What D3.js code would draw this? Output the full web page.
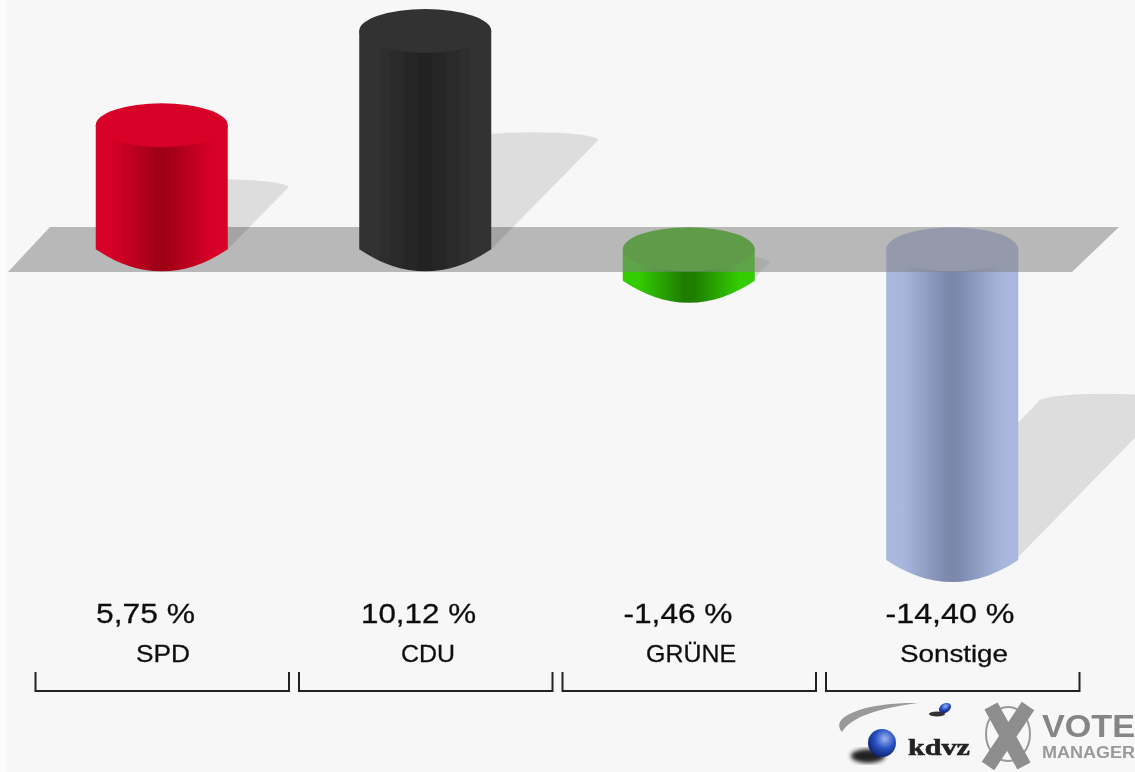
<!DOCTYPE html>
<html><head><meta charset="utf-8">
<script src="https://cdn.jsdelivr.net/npm/d3@7"></script>
<style>html,body{margin:0;padding:0;background:#fff;overflow:hidden}svg{display:block}</style>
</head><body><svg id="c" width="1135" height="772"></svg>
<script>
const parties = ["SPD","CDU","GRÜNE","Sonstige"];
const values = [5.75,10.12,-1.46,-14.40];
const valueLabels = ["5,75 %","10,12 %","-1,46 %","-14,40 %"];
const edgeColors = ["#d70026","#313131","#33cc00","#a9b7de"];
const darkColors = ["#a00016","#242424","#1f7d00","#7c89ad"];
const capColors = ["#d70026","#303030","#33b800","#a9b6dc"];
const valueX = [145.5,418.5,678,950];
const valueW = [99,115,109,129];
const nameX = [163,428,691,954];
const nameW = [54,54,90,108];

const W=1135,H=772;
const svg=d3.select("#c");
const defs=svg.append("defs");
const x=d3.scaleBand().domain(parties).range([30,1084]).paddingInner(0).paddingOuter(0);
const y=d3.scaleLinear().domain([-14.4,10.12]).range([560,31]);
const rx=66, ry=22, y0=y(0);
const cx=p=>x(p)+x.bandwidth()/2;

svg.append("rect").attr("width",W).attr("height",H).attr("fill","#f7f7f7");
svg.append("rect").attr("width",7).attr("height",H).attr("fill","#fbfbfb");

parties.forEach((p,i)=>{
  const g=defs.append("linearGradient").attr("id","g"+i);
  [[0,edgeColors[i]],[.12,edgeColors[i]],[.46,darkColors[i]],[.54,darkColors[i]],[.88,edgeColors[i]],[1,edgeColors[i]]]
    .forEach(([o,c])=>g.append("stop").attr("offset",o).attr("stop-color",c));
});
const soft=defs.append("filter").attr("id","soft").attr("x","-5%").attr("y","-5%").attr("width","110%").attr("height","110%");
soft.append("feGaussianBlur").attr("stdDeviation",.6);
const blur=defs.append("filter").attr("id","b");blur.append("feGaussianBlur").attr("stdDeviation",2);
const blur2=defs.append("filter").attr("id","b2");blur2.append("feGaussianBlur").attr("stdDeviation",.7);
const b3=defs.append("filter").attr("id","b3").attr("x","-5%").attr("y","-5%").attr("width","110%").attr("height","110%");
b3.append("feGaussianBlur").attr("stdDeviation",.5);

function bodyPath(c,top,bot){
  return `M${c-rx},${top}L${c-rx},${bot}C${c-45},${bot+14} ${c-24},${bot+22} ${c},${bot+22}`+
         `C${c+24},${bot+22} ${c+45},${bot+14} ${c+rx},${bot}L${c+rx},${top}Z`;
}
function shadowPath(c,base,h){
  const sx=c+.49*h, sy=base-.5*h, sr=8;
  return `M${c-rx},${base}L${sx-rx},${sy}A${rx},${sr} 0 0 1 ${sx+rx},${sy}L${c+rx},${base}Z`;
}
function drawBar(p,i,layer){
  const v=values[i], c=cx(p), t=Math.min(y(v),y0), b=Math.max(y(v),y0), h=b-t;
  const base = v>=0 ? y0 : b-3;
  layer.append("path").attr("d",shadowPath(c,base,h)).attr("fill","#000").attr("fill-opacity",.105);
  layer.append("path").attr("d",bodyPath(c,t,b)).attr("fill",`url(#g${i})`);
  layer.append("ellipse").attr("cx",c).attr("cy",t).attr("rx",rx).attr("ry",ry).attr("fill",capColors[i]);
}
const chart=svg.append("g").attr("filter","url(#soft)");
const back=chart.append("g");
parties.forEach((p,i)=>{ if(values[i]<0) drawBar(p,i,back); });
chart.append("path").attr("d","M50,227L1119,227L1072,272L8,272Z").attr("fill","rgb(132,132,132)").attr("fill-opacity",.55);
const front=chart.append("g");
parties.forEach((p,i)=>{ if(values[i]>=0) drawBar(p,i,front); });

const font="'Liberation Sans',Arial,sans-serif";
const labels=svg.append("g").attr("font-family",font).attr("fill","#111").attr("stroke","#111").attr("stroke-width",.3)
  .attr("text-anchor","middle").attr("filter","url(#b3)");
labels.selectAll(".v").data(valueLabels).join("text").attr("class","v")
  .attr("x",(d,i)=>valueX[i]).attr("y",623).attr("font-size",28)
  .attr("textLength",(d,i)=>valueW[i]).attr("lengthAdjust","spacingAndGlyphs").text(d=>d);
labels.selectAll(".n").data(parties).join("text").attr("class","n")
  .attr("x",(d,i)=>nameX[i]).attr("y",662).attr("font-size",24)
  .attr("textLength",(d,i)=>nameW[i]).attr("lengthAdjust","spacingAndGlyphs").text(d=>d);

const br=svg.append("g").attr("fill","none").attr("stroke","#222").attr("stroke-width",2);
parties.forEach(p=>{
  const l=x(p)+5.5, r=x(p)+x.bandwidth()-5.5+1;
  br.append("path").attr("d",`M${l},672V691H${r}V672`);
});

/* logos */
const lg=svg.append("g").attr("filter","url(#soft)");
const sph=defs.append("radialGradient").attr("id","sph").attr("cx",.6).attr("cy",.35).attr("r",.7);
sph.append("stop").attr("offset",0).attr("stop-color","#9bb4ee");
sph.append("stop").attr("offset",.5).attr("stop-color","#2a52c4");
sph.append("stop").attr("offset",1).attr("stop-color","#0c1f6a");
lg.append("path").attr("d","M842,732C828,716 868,702 918,703C880,708 852,716 842,732Z").attr("fill","#999");
lg.append("ellipse").attr("cx",868).attr("cy",756).attr("rx",17).attr("ry",7).attr("fill","#222").attr("filter","url(#b)");
lg.append("circle").attr("cx",882).attr("cy",743).attr("r",14).attr("fill","url(#sph)");
lg.append("ellipse").attr("cx",937).attr("cy",714).attr("rx",8).attr("ry",2.5).attr("fill","#333").attr("filter","url(#b2)");
lg.append("ellipse").attr("cx",945).attr("cy",708).attr("rx",6.5).attr("ry",4.5).attr("transform","rotate(-30 945 708)").attr("fill","url(#sph)");
lg.append("text").attr("x",908).attr("y",755).attr("font-family","'Liberation Serif',serif").attr("font-weight",700)
  .attr("font-size",24).attr("fill","#222").attr("stroke","#222").attr("stroke-width",.6).attr("textLength",62).attr("lengthAdjust","spacingAndGlyphs").text("kdvz");
lg.append("ellipse").attr("cx",1008).attr("cy",734).attr("rx",22).attr("ry",27).attr("fill","none").attr("stroke","#999").attr("stroke-width",2);
lg.append("path").attr("d","M991,706L1024,766M1028,706L988,766").attr("stroke","#8e8e8e").attr("stroke-width",15).attr("fill","none");
lg.append("text").attr("x",1042).attr("y",737).attr("font-family",font).attr("font-weight",700).attr("font-size",31).attr("fill","#858585").attr("textLength",93).attr("lengthAdjust","spacingAndGlyphs").text("VOTE");
lg.append("text").attr("x",1042).attr("y",758).attr("font-family",font).attr("font-weight",700).attr("font-size",16).attr("fill","#9a9a9a").attr("textLength",93).attr("lengthAdjust","spacingAndGlyphs").text("MANAGER");
</script></body></html>
